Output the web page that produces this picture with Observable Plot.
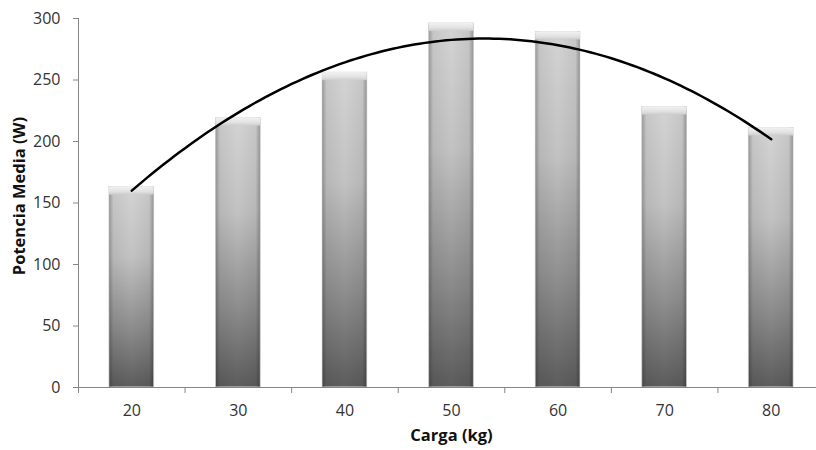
<!DOCTYPE html>
<html>
<head>
<meta charset="utf-8">
<script src="https://cdn.jsdelivr.net/npm/d3@7"></script>
<script src="https://cdn.jsdelivr.net/npm/@observablehq/plot@0.6"></script>
<style>
  html, body { margin: 0; padding: 0; background: #fff; }
  #chart { width: 816px; height: 450px; }
</style>
</head>
<body>
<div id="chart"></div>
<script>
// Carga levantada (kg) y potencia media obtenida (W)
const cargas = [20, 30, 40, 50, 60, 70, 80];
const potencias = [163, 219, 256, 296, 289, 228, 211];
const yTicks = [0, 50, 100, 150, 200, 250, 300];
// separaciones entre categorías, donde van las marcas del eje X
const xBordes = [15, 25, 35, 45, 55, 65, 75, 85];

const datos = cargas.map((c, i) => ({carga: c, potencia: potencias[i]}));

// Línea de tendencia polinómica de orden 2 (mínimos cuadrados)
function ajustePolinomico2(xs, ys) {
  const s = k => d3.sum(xs, x => x ** k);
  const t = k => d3.sum(xs, (x, i) => x ** k * ys[i]);
  const A = [[s(0), s(1), s(2)], [s(1), s(2), s(3)], [s(2), s(3), s(4)]];
  const b = [t(0), t(1), t(2)];
  // eliminación de Gauss
  for (let i = 0; i < 3; i++) {
    for (let j = i + 1; j < 3; j++) {
      const f = A[j][i] / A[i][i];
      for (let k = i; k < 3; k++) A[j][k] -= f * A[i][k];
      b[j] -= f * b[i];
    }
  }
  const c = [0, 0, 0];
  for (let i = 2; i >= 0; i--) {
    let v = b[i];
    for (let k = i + 1; k < 3; k++) v -= A[i][k] * c[k];
    c[i] = v / A[i][i];
  }
  return x => c[0] + c[1] * x + c[2] * x * x;
}
const tendencia = ajustePolinomico2(cargas, potencias);
const curva = d3.range(cargas[0], cargas[cargas.length - 1] + 0.01, 0.5)
  .map(x => ({carga: x, potencia: tendencia(x)}));

const medioAncho = 2.1; // mitad del ancho de barra, en kg
const fuente = "'Open Sans', 'DejaVu Sans', sans-serif";

const chart = Plot.plot({
  width: 816,
  height: 450,
  marginLeft: 78,
  marginRight: -8,
  marginTop: 18,
  marginBottom: 63,
  style: {fontFamily: fuente, fontSize: "16px", background: "#fff"},
  x: {domain: [15, 85], axis: null},
  y: {domain: [0, 300], axis: null},
  marks: [
    // cuerpo de las barras
    Plot.rect(datos, {
      x1: d => d.carga - medioAncho, x2: d => d.carga + medioAncho,
      y1: 0, y2: "potencia", fill: "url(#relleno)",
      stroke: "#e4e4e4", strokeWidth: 1
    }),
    // sombreado lateral
    Plot.rect(datos, {
      x1: d => d.carga - medioAncho, x2: d => d.carga + medioAncho,
      y1: 0, y2: "potencia", fill: "url(#bordes)"
    }),
    // bisel superior
    Plot.rect(datos, {
      x1: d => d.carga - medioAncho, x2: d => d.carga + medioAncho,
      y1: "potencia", y2: "potencia", insetBottom: -8, fill: "url(#bisel)"
    }),
    // ejes
    Plot.ruleX([15], {y1: 0, y2: 300, stroke: "#868686"}),
    Plot.ruleY([0], {stroke: "#868686"}),
    Plot.axisY({
      ticks: yTicks, tickSize: 5, tickPadding: 13, label: null,
      stroke: "#868686", fill: "#333", fontSize: 16
    }),
    Plot.axisX({
      ticks: xBordes, tickSize: 6, tickFormat: () => "", label: null,
      stroke: "#868686"
    }),
    Plot.axisX({
      ticks: cargas, tickSize: 0, tickPadding: 17, label: null,
      fill: "#333", fontSize: 16
    }),
    // tendencia
    Plot.line(curva, {x: "carga", y: "potencia", stroke: "#000", strokeWidth: 2.5}),
    // títulos de los ejes
    Plot.text(["Potencia Media (W)"], {
      frameAnchor: "left", textAnchor: "middle", rotate: -90, dx: -59, dy: -7,
      fontWeight: "bold", fontSize: 16.5, fill: "#111"
    }),
    Plot.text(["Carga (kg)"], {
      frameAnchor: "bottom", dy: 53,
      fontWeight: "bold", fontSize: 16.5, fill: "#111"
    })
  ]
});

// degradados usados por las barras
const ns = "http://www.w3.org/2000/svg";
const defs = document.createElementNS(ns, "defs");
function degradado(id, vertical, paradas) {
  const g = document.createElementNS(ns, "linearGradient");
  g.setAttribute("id", id);
  g.setAttribute("x1", "0"); g.setAttribute("y1", "0");
  g.setAttribute("x2", vertical ? "0" : "1"); g.setAttribute("y2", vertical ? "1" : "0");
  for (const [o, c, a] of paradas) {
    const s = document.createElementNS(ns, "stop");
    s.setAttribute("offset", o);
    s.setAttribute("stop-color", c);
    s.setAttribute("stop-opacity", a ?? 1);
    g.appendChild(s);
  }
  defs.appendChild(g);
}
degradado("relleno", true, [[0, "#d4d4d4"], [0.35, "#c2c2c2"], [0.7, "#8e8e8e"], [1, "#5c5c5c"]]);
degradado("bordes", false, [[0, "#000", 0.28], [0.1, "#000", 0.06], [0.5, "#000", 0], [0.9, "#000", 0.06], [1, "#000", 0.3]]);
degradado("bisel", true, [[0, "#f2f2f2"], [0.6, "#e2e2e2"], [1, "#cdcdcd"]]);
chart.insertBefore(defs, chart.firstChild);

document.getElementById("chart").appendChild(chart);
</script>
</body>
</html>
